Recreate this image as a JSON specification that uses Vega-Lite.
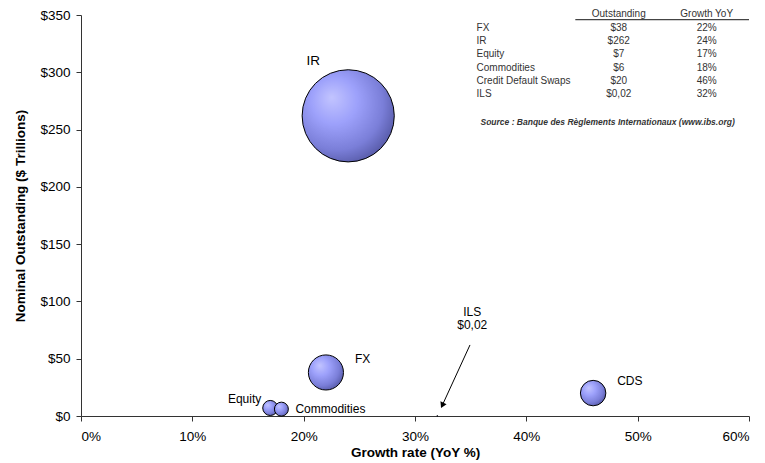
{
  "$schema": "https://vega.github.io/schema/vega-lite/v6.json",
  "width": 668,
  "height": 401,
  "autosize": {"type": "none"},
  "padding": {"left": 81, "top": 15, "right": 16, "bottom": 47},
  "background": "white",
  "config": {
    "view": {"stroke": null},
    "font": "Liberation Sans",
    "axis": {
      "grid": false,
      "domainColor": "#333333",
      "tickColor": "#333333",
      "tickSize": 5,
      "labelColor": "black",
      "titleColor": "black",
      "labelFont": "Liberation Sans",
      "titleFont": "Liberation Sans",
      "labelFontSize": 13.5,
      "titleFontSize": 13.5,
      "titleFontWeight": "bold"
    },
    "text": {"font": "Liberation Sans", "color": "black"}
  },
  "data": {
    "values": [
      {"name": "FX", "label": "FX", "outstanding": 38, "outstandingText": "$38", "growth": 0.22, "growthText": "22%"},
      {"name": "IR", "label": "IR", "outstanding": 262, "outstandingText": "$262", "growth": 0.24, "growthText": "24%"},
      {"name": "Equity", "label": "Equity", "outstanding": 7, "outstandingText": "$7", "growth": 0.17, "growthText": "17%"},
      {"name": "Commodities", "label": "Commodities", "outstanding": 6, "outstandingText": "$6", "growth": 0.18, "growthText": "18%"},
      {"name": "Credit Default Swaps", "label": "CDS", "outstanding": 20, "outstandingText": "$20", "growth": 0.46, "growthText": "46%"},
      {"name": "ILS", "label": "ILS", "outstanding": 0.02, "outstandingText": "$0,02", "growth": 0.32, "growthText": "32%"}
    ]
  },
  "layer": [
    {
      "layer": [
        {
          "encoding": {
            "x": {
              "field": "growth",
              "type": "quantitative",
              "scale": {"domain": [0, 0.6], "nice": false},
              "axis": {"format": ".0%", "values": [0, 0.1, 0.2, 0.3, 0.4, 0.5, 0.6], "labelPadding": 8, "titlePadding": 3},
              "title": "Growth rate (YoY %)"
            },
            "y": {
              "field": "outstanding",
              "type": "quantitative",
              "scale": {"domain": [0, 350], "nice": false},
              "axis": {"format": "$,.0f", "values": [0, 50, 100, 150, 200, 250, 300, 350], "labelPadding": 6, "titlePadding": 12},
              "title": "Nominal Outstanding ($ Trillions)"
            }
          },
          "layer": [
            {
              "mark": {
                "type": "circle",
                "opacity": 1,
                "stroke": "black",
                "strokeWidth": 1,
                "fill": {
                  "gradient": "radial",
                  "x1": 0.32, "y1": 0.3, "r1": 0,
                  "x2": 0.4, "y2": 0.4, "r2": 0.72,
                  "stops": [
                    {"offset": 0, "color": "#c2c4ff"},
                    {"offset": 0.35, "color": "#9da1fb"},
                    {"offset": 0.7, "color": "#7a7ed8"},
                    {"offset": 1, "color": "#4a4d96"}
                  ]
                }
              },
              "encoding": {
                "size": {"field": "outstanding", "type": "quantitative", "scale": {"type": "linear", "domain": [0, 262], "range": [0, 8495], "zero": true}, "legend": null}
              }
            },
            {
              "transform": [{"filter": "datum.label === 'IR'"}],
              "mark": {"type": "text", "fontSize": 13.5, "align": "center", "baseline": "middle", "dx": -35, "dy": -55},
              "encoding": {"text": {"field": "label"}}
            },
            {
              "transform": [{"filter": "datum.label === 'FX'"}],
              "mark": {"type": "text", "fontSize": 12, "align": "left", "baseline": "middle", "dx": 29, "dy": -13},
              "encoding": {"text": {"field": "label"}}
            },
            {
              "transform": [{"filter": "datum.label === 'CDS'"}],
              "mark": {"type": "text", "fontSize": 12, "align": "left", "baseline": "middle", "dx": 24, "dy": -12},
              "encoding": {"text": {"field": "label"}}
            },
            {
              "transform": [{"filter": "datum.label === 'Equity'"}],
              "mark": {"type": "text", "fontSize": 12, "align": "right", "baseline": "middle", "dx": -9, "dy": -9},
              "encoding": {"text": {"field": "label"}}
            },
            {
              "transform": [{"filter": "datum.label === 'Commodities'"}],
              "mark": {"type": "text", "fontSize": 12, "align": "left", "baseline": "middle", "dx": 14, "dy": 0},
              "encoding": {"text": {"field": "label"}}
            },
            {
              "transform": [{"filter": "datum.label === 'ILS'"}],
              "mark": {"type": "text", "fontSize": 12, "align": "center", "baseline": "middle", "dx": 35, "dy": -104},
              "encoding": {"text": {"field": "label"}}
            },
            {
              "transform": [{"filter": "datum.label === 'ILS'"}],
              "mark": {"type": "text", "fontSize": 12, "align": "center", "baseline": "middle", "dx": 35, "dy": -91},
              "encoding": {"text": {"field": "outstandingText"}}
            }
          ]
        },
        {
          "data": {"values": [{}]},
          "mark": {"type": "rule", "color": "black", "strokeWidth": 1},
          "encoding": {
            "x": {"datum": 0.3494, "type": "quantitative"},
            "y": {"datum": 62, "type": "quantitative"},
            "x2": {"datum": 0.3245},
            "y2": {"datum": 9.3}
          }
        },
        {
          "data": {"values": [{}]},
          "mark": {"type": "point", "shape": "triangle-down", "filled": true, "color": "black", "size": 45, "angle": 25, "opacity": 1},
          "encoding": {
            "x": {"datum": 0.3245, "type": "quantitative"},
            "y": {"datum": 9.3, "type": "quantitative"}
          }
        },
        {
          "data": {"values": [{}]},
          "mark": {"type": "rule", "color": "#444444", "strokeWidth": 1.2},
          "encoding": {
            "x": {"datum": 0.444, "type": "quantitative"},
            "x2": {"datum": 0.6},
            "y": {"datum": 345.9, "type": "quantitative"}
          }
        },
        {
          "data": {"values": [{}]},
          "mark": {"type": "text", "text": "Outstanding", "fontSize": 10, "align": "center", "baseline": "middle", "color": "#333333"},
          "encoding": {
            "x": {"datum": 0.483, "type": "quantitative"},
            "y": {"datum": 350.6, "type": "quantitative"}
          }
        },
        {
          "data": {"values": [{}]},
          "mark": {"type": "text", "text": "Growth YoY", "fontSize": 10, "align": "center", "baseline": "middle", "color": "#333333"},
          "encoding": {
            "x": {"datum": 0.562, "type": "quantitative"},
            "y": {"datum": 350.6, "type": "quantitative"}
          }
        },
        {
          "data": {"values": [{}]},
          "mark": {"type": "text", "text": "Source : Banque des Règlements Internationaux (www.ibs.org)", "fontSize": 8.5, "fontStyle": "italic", "fontWeight": "bold", "align": "center", "baseline": "middle", "color": "#333333"},
          "encoding": {
            "x": {"datum": 0.473, "type": "quantitative"},
            "y": {"datum": 256.3, "type": "quantitative"}
          }
        }
      ]
    },
    {
      "encoding": {
        "y": {
          "field": "name",
          "type": "ordinal",
          "sort": ["FX", "IR", "Equity", "Commodities", "Credit Default Swaps", "ILS"],
          "scale": {"type": "point", "padding": 0, "domain": ["FX", "IR", "Equity", "Commodities", "Credit Default Swaps", "ILS"], "range": [12.7, 79.3]},
          "axis": null
        }
      },
      "layer": [
        {
          "mark": {"type": "text", "fontSize": 10, "align": "left", "baseline": "middle", "color": "#333333"},
          "encoding": {
            "x": {"datum": 0.3553, "type": "quantitative"},
            "text": {"field": "name"}
          }
        },
        {
          "mark": {"type": "text", "fontSize": 10, "align": "center", "baseline": "middle", "color": "#333333"},
          "encoding": {
            "x": {"datum": 0.483, "type": "quantitative"},
            "text": {"field": "outstandingText"}
          }
        },
        {
          "mark": {"type": "text", "fontSize": 10, "align": "center", "baseline": "middle", "color": "#333333"},
          "encoding": {
            "x": {"datum": 0.562, "type": "quantitative"},
            "text": {"field": "growthText"}
          }
        }
      ]
    }
  ],
  "resolve": {"scale": {"y": "independent"}}
}
